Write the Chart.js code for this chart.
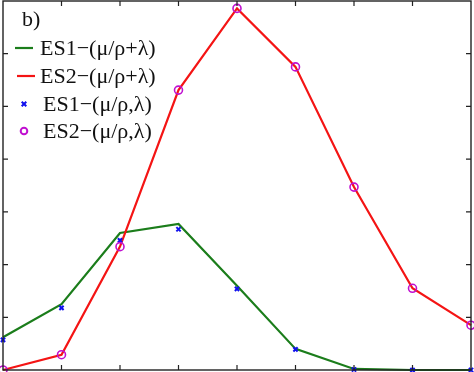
<!DOCTYPE html>
<html>
<head>
<meta charset="utf-8">
<script src="https://cdn.jsdelivr.net/npm/chart.js@4"></script>
<style>
html,body{margin:0;padding:0;background:#fff;}
#wrap{width:474px;height:372px;position:relative;}
</style>
</head>
<body>
<div id="wrap"><canvas id="c"></canvas></div>
<script>
const categories = ['0','1','2','3','4','5','6','7','8'];
const es1Line = [0.62, 1.25, 2.60, 2.77, 1.60, 0.40, 0.02, 0.00, 0.00];
const es2Line = [0.00, 0.29, 2.34, 5.31, 6.86, 5.75, 3.47, 1.55, 0.85];
const es1Points = [0.57, 1.18, 2.46, 2.67, 1.54, 0.39, 0.01, 0.00, 0.00];
const es2Points = [0.00, 0.29, 2.34, 5.31, 6.86, 5.75, 3.47, 1.55, 0.85];
const xTickValues = [1, 2, 3, 4, 5, 6, 7];
const yTickValues = [1, 2, 3, 4, 5, 6];
const panelLabel = 'b)';
const seriesNames = ['ES1\u2212(\u03bc/\u03c1+\u03bb)', 'ES2\u2212(\u03bc/\u03c1+\u03bb)', 'ES1\u2212(\u03bc/\u03c1,\u03bb)', 'ES2\u2212(\u03bc/\u03c1,\u03bb)'];

const GREEN = '#1b7d1b', RED = '#f41414', BLUE = '#1010ee', MAG = '#c010d0';

const framePlugin = {
  id: 'frame',
  afterDatasetsDraw(chart) {
    const ctx = chart.ctx, a = chart.chartArea;
    const xs = chart.scales.x, ys = chart.scales.y;
    ctx.save();
    ctx.strokeStyle = '#222';
    ctx.lineWidth = 1.4;
    ctx.strokeRect(a.left, a.top, a.right - a.left, a.bottom - a.top);
    ctx.lineWidth = 1.2;
    ctx.beginPath();
    xTickValues.forEach(v => {
      const px = xs.getPixelForValue(v);
      ctx.moveTo(px, a.bottom); ctx.lineTo(px, a.bottom - 5);
      ctx.moveTo(px, a.top); ctx.lineTo(px, a.top + 5);
    });
    yTickValues.forEach(v => {
      const py = ys.getPixelForValue(v);
      ctx.moveTo(a.left, py); ctx.lineTo(a.left + 5, py);
      ctx.moveTo(a.right, py); ctx.lineTo(a.right - 5, py);
    });
    ctx.stroke();
    ctx.restore();
  },
  afterDraw(chart) {
    const ctx = chart.ctx;
    ctx.save();
    ctx.font = '22px "Liberation Serif", "Times New Roman", serif';
    ctx.fillStyle = '#111';
    ctx.textBaseline = 'alphabetic';
    ctx.fillText(panelLabel, 22, 26);
    const ds = chart.data.datasets;
    const baselines = [55, 83, 111, 138];
    ds.forEach((d, i) => {
      const b = baselines[i];
      const cy = b - 7;
      if (d.showLine !== false) {
        ctx.strokeStyle = d.borderColor;
        ctx.lineWidth = 2.2;
        ctx.beginPath();
        ctx.moveTo(i === 0 ? 15 : 17, cy);
        ctx.lineTo(i === 0 ? 33 : 35, cy);
        ctx.stroke();
        ctx.fillStyle = '#111';
        ctx.fillText(d.label, 40, b);
      } else {
        ctx.strokeStyle = d.borderColor;
        ctx.lineWidth = 2;
        ctx.beginPath();
        if (d.pointStyle === 'crossRot') {
          const r = 2.3;
          ctx.moveTo(24 - r, cy - r); ctx.lineTo(24 + r, cy + r);
          ctx.moveTo(24 + r, cy - r); ctx.lineTo(24 - r, cy + r);
        } else {
          ctx.arc(24, cy, 3.3, 0, Math.PI * 2);
        }
        ctx.stroke();
        ctx.fillStyle = '#111';
        ctx.fillText(d.label, 43, b);
      }
    });
    ctx.restore();
  }
};

new Chart(document.getElementById('c'), {
  type: 'line',
  data: {
    labels: categories,
    datasets: [
      { label: seriesNames[0], data: es1Line, borderColor: GREEN, borderWidth: 2.2, pointRadius: 0, tension: 0, fill: false, order: 3 },
      { label: seriesNames[1], data: es2Line, borderColor: RED, borderWidth: 2.2, pointRadius: 0, tension: 0, fill: false, order: 2 },
      { label: seriesNames[2], data: es1Points, showLine: false, borderColor: BLUE, backgroundColor: BLUE, pointStyle: 'crossRot', pointRadius: 3, pointBorderWidth: 2, order: 1 },
      { label: seriesNames[3], data: es2Points, showLine: false, borderColor: MAG, backgroundColor: 'rgba(0,0,0,0)', pointStyle: 'circle', pointRadius: 4, pointBorderWidth: 1.6, order: 0 }
    ]
  },
  options: {
    responsive: true,
    maintainAspectRatio: false,
    animation: false,
    clip: false,
    layout: { autoPadding: false, padding: { left: 3, right: 3, top: 1, bottom: 2 } },
    plugins: { legend: { display: false }, tooltip: { enabled: false } },
    scales: {
      x: { type: 'category', offset: false, display: false },
      y: { type: 'linear', min: 0, max: 7, display: false }
    }
  },
  plugins: [framePlugin]
});
</script>
</body>
</html>
